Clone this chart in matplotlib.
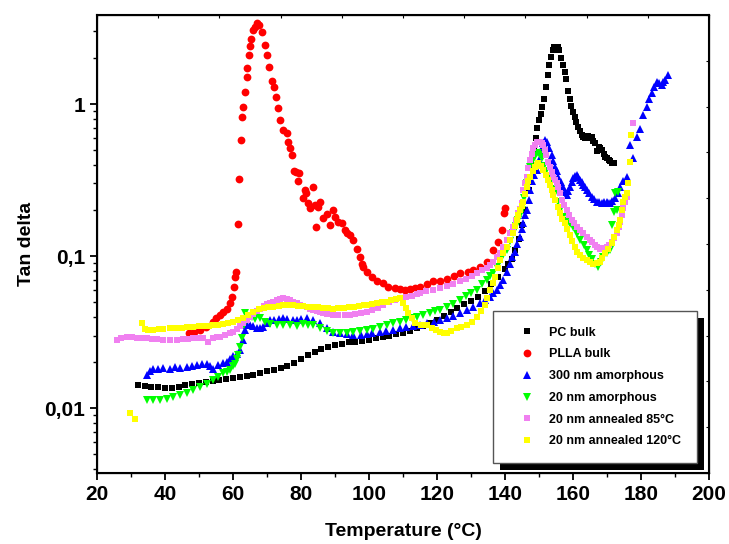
import matplotlib
matplotlib.use("Agg")
import matplotlib.pyplot as plt
from matplotlib.patches import Rectangle
from matplotlib.transforms import IdentityTransform
from matplotlib.ticker import FixedLocator, FuncFormatter, LogLocator, NullFormatter

plt.rcParams["font.family"] = ["Liberation Sans", "DejaVu Sans"]
plt.rcParams["font.weight"] = "bold"

# ---------------------------------------------------------------------------
# Data (temperature in degC, tan delta)
# ---------------------------------------------------------------------------

pc_t = [32, 34, 36, 38, 40, 42, 44, 46, 48, 50, 52, 54, 56, 58, 60, 62, 64, 66, 68, 70,
        72, 74, 76, 78, 80, 82, 84, 86, 88, 90, 92, 94, 96, 98, 100, 102, 104, 106, 108, 110,
        112, 114, 116, 118, 120, 122, 124, 126, 128, 130, 132, 134, 136, 138, 140, 141, 142,
        143, 144, 145, 146, 147, 148, 148.5, 149, 149.5, 150, 150.5, 151, 151.5, 152, 152.5,
        153, 153.5, 154, 154.5, 155, 155.5, 156, 156.5, 157, 157.5, 158, 158.5, 159, 159.5,
        160, 160.5, 161, 161.5, 162, 162.5, 163, 163.5, 164, 164.5, 165, 165.5, 166, 166.5,
        167, 167.5, 168, 168.5, 169, 169.5, 170, 170.5, 171, 171.5, 172]
pc_v = [.0142, .0140, .0138, .0137, .0136, .0135, .0138, .0141, .0144, .0147, .0149, .0151,
        .0154, .0156, .0158, .0160, .0162, .0165, .0170, .0174, .0178, .0183, .0189, .0198,
        .0210, .0222, .0233, .0245, .0254, .0260, .0265, .0270, .0274, .0278, .0282, .0288,
        .0294, .0300, .0306, .0313, .0322, .0335, .0348, .0365, .0382, .0402, .0430, .0458,
        .0482, .0508, .0540, .0585, .0650, .0730, .0820, .0880, .0950, .110, .130, .160, .200,
        .270, .400, .500, .600, .700, .780, .860, .950, 1.08, 1.30, 1.55, 1.80, 2.05, 2.25,
        2.36, 2.38, 2.37, 2.25, 2.00, 1.80, 1.62, 1.45, 1.22, 1.08, 0.97, 0.88, 0.82, 0.76,
        0.71, 0.66, 0.63, 0.61, 0.60, 0.61, 0.62, 0.60, 0.61, 0.57, 0.55, 0.49, 0.52, 0.51,
        0.50, 0.47, 0.45, 0.44, 0.43, 0.42, 0.41, 0.41]

plla_t = [47, 48.5, 50.3, 52, 54.1, 55, 56.2, 57, 58.1, 59.1, 59.8, 60.3, 60.6, 60.9, 61.4,
          61.9, 62.4, 62.7, 63.0, 63.5, 64.0, 64.2, 64.6, 65.0, 65.4, 65.8, 66.5, 67.0, 67.7,
          68.4, 69.4, 69.9, 70.7, 71.4, 72.1, 72.6, 73.2, 73.8, 74.8, 75.8, 76.3, 76.8, 77.4,
          78.0, 78.6, 79.2, 79.5, 80.5, 81.2, 81.6, 82.2, 82.6, 83.4, 84.1, 84.4, 85.1, 85.6,
          86.6, 87.5, 88.5, 89.3, 90.0, 91.0, 92.0, 92.9, 93.6, 94.4, 95.4, 96.4, 97.4, 97.8,
          98.3, 99.3, 100.8, 102.3, 104.2, 105.7, 107.5, 109.1, 110.5, 112, 113.5, 115, 117,
          118.9, 121, 122.8, 125, 126.8, 129, 130.7, 132.5, 134.6, 136.6, 138.0, 139.0, 139.7,
          140.0]
plla_v = [.031, .0318, .0325, .034, .037, .039, .041, .043, .045, .049, .054, .063, .073, .079,
          .162, .32, .58, .82, .96, 1.20, 1.51, 1.73, 2.10, 2.42, 2.66, 3.07, 3.22, 3.39, 3.31,
          2.99, 2.45, 2.10, 1.76, 1.42, 1.29, 1.11, 0.94, 0.78, 0.67, 0.64, 0.565, 0.51, 0.46,
          0.36, 0.355, 0.31, 0.35, 0.24, 0.27, 0.26, 0.222, 0.206, 0.285, 0.217, 0.156, 0.21,
          0.228, 0.177, 0.19, 0.16, 0.20, 0.181, 0.168, 0.164, 0.148, 0.142, 0.137, 0.128,
          0.112, 0.099, 0.089, 0.085, 0.079, 0.073, 0.069, 0.066, 0.063, 0.062, 0.061, 0.060,
          0.061, 0.062, 0.063, 0.065, 0.068, 0.069, 0.071, 0.074, 0.077, 0.079, 0.081, 0.085,
          0.092, 0.11, 0.124, 0.148, 0.191, 0.206]

a300_t = [34.6, 35.5, 36.6, 38, 39.5, 41.5, 43, 44.5, 46.4, 48, 49.5, 51, 52.3, 53.3, 54.2,
          55.5, 57, 58.1, 59.1, 60.1, 61.1, 62.1, 62.8, 63.5, 64, 65, 66, 67, 68, 68.9, 70,
          70.9, 72, 73.5, 74.8, 76, 77.5, 78.7, 80, 81.7, 83.6, 85.6, 87.5, 89.5, 91.5, 93.5,
          95.4, 97.5, 99.3, 101, 103.2, 105, 107, 109.1, 111, 113, 115, 117, 119, 121, 122.8,
          124.8, 126.8, 128.7, 130.6, 132.6, 134.1, 135.6, 136.6, 137.6, 138.5, 139.5, 140.5,
          141.5, 142.2, 142.9, 143.6, 144.4, 145, 145.4, 146, 146.4, 147, 147.4, 148, 148.6,
          149.3, 150, 150.6, 151.1, 151.8, 152.3, 152.9, 153.7, 154.2, 154.7, 155.2, 155.7,
          156.4, 157.1, 157.6, 158.1, 158.6, 159.1, 159.6, 160.1, 160.6, 161.1, 161.6, 162.1,
          162.6, 163.0, 163.5, 164.0, 164.8, 165.5, 166.2, 167.0, 167.7, 168.4, 169.1, 169.9,
          170.4, 170.9, 171.6, 172.4, 173.1, 173.8, 174.8, 175.8, 176.8, 177.7, 178.7, 179.7,
          180.7, 181.7, 182.4, 183.1, 183.8, 184.6, 185.3, 186.1, 186.6, 187.1, 187.9]
a300_v = [.0165, .0175, .0182, .0180, .0183, .0182, .0185, .0184, .0187, .0188, .0192, .0195,
          .0196, .0190, .0182, .0192, .0198, .0202, .0210, .0219, .0228, .0240, .0280, .0325,
          .0350, .0350, .0345, .0334, .0336, .0342, .0360, .0378, .0382, .0386, .0389, .0388,
          .0382, .0380, .0385, .0389, .0378, .0362, .0338, .0318, .0310, .0305, .0302, .0304,
          .0308, .0312, .0318, .0322, .0328, .0334, .0340, .0346, .0353, .0360, .0370, .0380,
          .0390, .0405, .0422, .0440, .0462, .0488, .0512, .0540, .0570, .0600, .0645, .0698,
          .0790, .0890, .0980, .107, .120, .134, .150, .164, .185, .200, .235, .270, .310, .340,
          .368, .430, .500, .550, .580, .560, .510, .460, .420, .387, .360, .333, .305, .286,
          .265, .252, .268, .286, .305, .325, .335, .341, .330, .316, .305, .294, .283, .272,
          .258, .246, .237, .228, .225, .222, .225, .228, .224, .222, .230, .240, .260, .286,
          .310, .333, .540, .440, .61, .69, .85, .96, 1.08, 1.18, 1.30, 1.40, 1.38, 1.33, 1.40,
          1.44, 1.54]

a20_t = [34.6, 36.5, 38.5, 40.5, 42.4, 44.4, 46.4, 48.3, 50.3, 52.3, 54.2, 55.7, 57.1, 58.1,
         59.1, 60.1, 60.6, 61.1, 61.6, 62.1, 62.6, 63.1, 63.5, 64.5, 65.5, 66.5, 67.9, 69.4,
         71, 72.9, 74.8, 76.8, 78.7, 80.7, 82.2, 83.6, 85.6, 87.5, 89.5, 91.5, 93.5, 95.4,
         97.4, 99.3, 101.3, 103.2, 105.2, 107.2, 109.1, 111, 112.5, 114, 116, 118, 119.5,
         120.9, 122.8, 124.8, 126.8, 128.5, 130, 131.7, 133.2, 134.6, 135.6, 136.6, 137.6,
         138.5, 139.5, 140.5, 141.5, 142.4, 143.2, 143.9, 144.4, 144.9, 145.6, 146.4, 147.4,
         148.2, 148.9, 149.8, 150.3, 150.8, 151.5, 152.1, 152.7, 153.4, 154, 154.7, 155.5,
         156.2, 157.1, 158, 159, 160.1, 161.1, 162.1, 163.1, 164, 164.8, 165.6, 166.5, 167.4,
         168.2, 168.9, 169.9, 170.9, 171.4, 172.2, 172.9, 172.4, 173.2]
a20_v = [.0113, .0113, .0113, .0115, .0118, .0121, .0125, .0131, .0138, .0145, .0152, .0160,
         .0169, .0173, .0178, .0188, .0196, .0210, .0223, .0253, .0287, .0350, .0420, .0405,
         .0395, .0385, .0389, .0369, .0355, .0350, .0350, .0350, .0345, .0355, .0352, .0350,
         .0334, .0320, .0314, .0310, .0312, .0315, .0320, .0325, .0332, .0340, .0350, .0360,
         .0370, .0382, .0392, .0400, .0412, .0425, .0435, .0440, .0460, .0485, .0514, .0545,
         .0572, .0600, .0650, .0698, .0735, .0770, .0850, .0940, .1020, .110, .125, .141, .157,
         .173, .186, .200, .240, .300, .387, .430, .455, .474, .460, .440, .390, .360, .333,
         .300, .278, .258, .225, .200, .180, .170, .162, .156, .140, .128, .118, .110, .102,
         .095, .089, .085, .092, .099, .105, .110, .160, .195, .200, .258, .265]

ann85_t = [25.8, 27.2, 28.7, 30.2, 31.7, 33.1, 34.6, 36.1, 37.6, 39.5, 41.5, 43.5, 45.4, 46.9,
           48.3, 50, 51.2, 52.7, 54.2, 55.2, 56.2, 57.6, 59.1, 60.1, 61.1, 62.1, 63, 64, 65,
           66, 67, 67.9, 69, 70, 71, 71.9, 72.9, 73.9, 74.8, 75.8, 76.8, 77.7, 78.7, 79.7,
           80.7, 81.7, 82.7, 83.6, 84.6, 85.6, 86.6, 87.5, 88.5, 89.5, 91, 92.9, 94.4, 96,
           97.6, 99.3, 100.8, 102.5, 104.2, 105.9, 107.5, 109.1, 110.8, 112.5, 114, 115, 116.9,
           118.9, 120.9, 122.8, 124.8, 126.8, 128.5, 130.2, 131.7, 133.2, 134.6, 135.6, 136.6,
           137.6, 138.5, 139.5, 140.5, 141.5, 142.4, 143.2, 143.9, 144.4, 144.9, 145.4, 145.9,
           146.4, 146.9, 147.4, 147.9, 148.3, 148.8, 149.3, 149.8, 150.3, 150.8, 151.3, 151.8,
           152.2, 152.7, 153.2, 153.7, 154.2, 154.7, 155.2, 155.7, 156.2, 156.7, 157.4, 158.1,
           158.8, 159.6, 160.3, 161.1, 162, 163, 164, 165, 165.7, 166.5, 167.2, 167.9, 168.9,
           169.9, 170.6, 171.4, 172.1, 172.9, 173.4, 173.8, 174.3, 174.8, 175.3, 175.8, 177.7]
ann85_v = [.0280, .0288, .0295, .0292, .0290, .0288, .0287, .0286, .0284, .0282, .0280, .0282,
           .0285, .0286, .0287, .0288, .0290, .0273, .0290, .0292, .0295, .0302, .0310, .0318,
           .0330, .0345, .0360, .0378, .0395, .0415, .0432, .0450, .0468, .0482, .0492, .0500,
           .0515, .0525, .0527, .0520, .0510, .0500, .0490, .0478, .0470, .0460, .0448, .0440,
           .0434, .0428, .0422, .0418, .0414, .0410, .0410, .0410, .0410, .0415, .0422, .0430,
           .0440, .0458, .0476, .0495, .0510, .0527, .0540, .0550, .0562, .0570, .0585, .0600,
           .0613, .0635, .0655, .0680, .0710, .0740, .0770, .0805, .0840, .0870, .0920, .0980,
           .104, .115, .128, .141, .156, .173, .191, .205, .222, .272, .300, .333, .380, .428,
           .470, .510, .540, .560, .565, .565, .555, .540, .500, .460, .417, .385, .358, .333,
           .315, .300, .286, .260, .234, .215, .200, .186, .173, .165, .156, .148, .141, .134,
           .128, .123, .118, .114, .112, .113, .115, .119, .124, .132, .141, .155, .168, .187,
           .206, .225, .246, .746]

ann120_t = [29.7, 31.2, 33.1, 34.1, 35.1, 36.6, 38.1, 39.5, 41.5, 43.1, 44.9, 46.6, 48.3, 50,
            51.6, 53, 54.2, 55.6, 57.1, 58.6, 60.1, 61.6, 63, 64.5, 66, 67.5, 69, 70.4, 71.9,
            73.4, 74.8, 76.3, 77.7, 79.2, 80.7, 82.2, 83.6, 85.1, 86.6, 88, 89.5, 91, 92.5, 94,
            95.5, 97, 98.5, 99.3, 100.8, 102.3, 103.7, 105.2, 106.5, 107.8, 109.1, 110, 110.8,
            111.6, 112.5, 113.5, 115.2, 117, 118.5, 119.7, 120.9, 122, 122.8, 124.2, 125.8,
            127.2, 128.7, 130.2, 131.7, 132.9, 134.1, 134.8, 135.6, 136.4, 137.1, 137.8, 138.5,
            139.5, 140.5, 141.5, 142.4, 142.9, 143.4, 143.9, 144.4, 144.9, 145.4, 145.9, 146.4,
            146.9, 147.4, 148.1, 148.8, 149.3, 149.8, 150.5, 151.3, 152, 152.7, 153.2, 153.7,
            154.2, 154.7, 155.5, 156.2, 156.9, 157.6, 158.3, 159.1, 159.8, 160.6, 161.3, 162.1,
            163, 164, 165, 166, 167, 167.9, 168.6, 169.4, 170.4, 171.4, 172.1, 172.9, 173.4,
            173.8, 174.3, 174.8, 175.3, 175.8, 176.3, 176.8, 177.2]
ann120_v = [.0093, .0085, .0364, .0330, .0326, .0328, .0330, .0332, .0334, .0336, .0338, .0340,
            .0342, .0344, .0346, .0348, .0350, .0353, .0357, .0362, .0370, .0380, .0393, .0410,
            .0430, .0445, .0455, .0460, .0464, .0470, .0474, .0476, .0476, .0470, .0466, .0464,
            .0464, .0460, .0456, .0452, .0450, .0452, .0455, .0460, .0465, .0470, .0474, .0476,
            .0482, .0488, .0495, .0500, .0510, .0520, .0527, .0490, .0455, .0420, .0390, .0360,
            .0353, .0350, .0335, .0325, .0318, .0312, .0310, .0322, .0334, .0342, .0350, .0370,
            .0400, .0435, .0476, .0530, .0600, .0665, .0731, .0830, .0940, .104, .115, .128,
            .141, .157, .173, .186, .200, .214, .228, .255, .286, .310, .333, .360, .387, .400,
            .407, .390, .368, .340, .316, .293, .272, .252, .234, .210, .191, .176, .164, .150,
            .137, .125, .115, .107, .101, .097, .094, .091, .089, .090, .0916, .097, .104, .112,
            .122, .134, .148, .160, .173, .200, .228, .243, .258, .300, .417, .625]

series = [
    ("PC bulk", pc_t, pc_v, "s", "#000000", 4.8),
    ("PLLA bulk", plla_t, plla_v, "o", "#FF0000", 5.6),
    ("300 nm amorphous", a300_t, a300_v, "^", "#0000FF", 5.8),
    ("20 nm amorphous", a20_t, a20_v, "v", "#00FF00", 5.8),
    ("20 nm annealed 85\u00b0C", ann85_t, ann85_v, "s", "#F080F0", 4.8),
    ("20 nm annealed 120\u00b0C", ann120_t, ann120_v, "s", "#FFFF00", 4.8),
]

# ---------------------------------------------------------------------------
# Figure
# ---------------------------------------------------------------------------

fig = plt.figure(figsize=(7.29, 5.44), dpi=100)
ax = fig.add_axes([97 / 729, 1 - 473 / 544, 612 / 729, 458 / 544])

for label, t, v, mk, col, ms in series:
    ax.plot(t, v, linestyle="none", marker=mk, color=col, markersize=ms,
            markeredgewidth=0, label=label)

ax.set_yscale("log")
ax.set_xlim(20, 200)
ax.set_ylim(0.00374, 3.85)

ax.xaxis.set_major_locator(FixedLocator(range(20, 201, 20)))
ax.xaxis.set_minor_locator(FixedLocator(range(30, 200, 20)))
ax.yaxis.set_major_locator(LogLocator(base=10, numticks=10))
ax.yaxis.set_minor_locator(LogLocator(base=10, subs=range(2, 10), numticks=20))
ax.yaxis.set_minor_formatter(NullFormatter())
ax.yaxis.set_major_formatter(FuncFormatter(lambda v, p: f"{v:g}".replace(".", ",")))

ax.tick_params(which="major", direction="out", length=5, width=1.3, labelsize=15,
               top=False, right=False)
ax.tick_params(which="minor", direction="out", length=3, width=1.0, top=False, right=False)
for s in ax.spines.values():
    s.set_linewidth(1.5)

ax.set_xlabel("Temperature (\u00b0C)", fontsize=14, fontweight="bold", labelpad=14)
ax.set_ylabel("Tan delta", fontsize=14, fontweight="bold", labelpad=7)

# opposite axes carry short inward ticks in ten even steps, no labels
axt = ax.twiny()
axt.set_xlim(0, 10)
axt.xaxis.set_major_locator(FixedLocator(range(11)))
axt.tick_params(axis="x", direction="in", length=2.5, width=0.8, labeltop=False)
axr = ax.twinx()
axr.set_ylim(0, 10)
axr.yaxis.set_major_locator(FixedLocator(range(11)))
axr.tick_params(axis="y", direction="in", length=2.5, width=0.8, labelright=False)

leg = ax.legend(loc="lower right", bbox_to_anchor=(0.9804, 0.0218), fancybox=False,
                frameon=True, edgecolor="#555555", framealpha=1, borderpad=1.25,
                handlelength=3.0, handletextpad=0.3, labelspacing=0.78, borderaxespad=0,
                prop={"size": 9, "weight": "bold"})
leg.get_frame().set_linewidth(1.0)
leg.set_zorder(10)

fig.canvas.draw()
bb = leg.get_window_extent()
off = 7
shadow = Rectangle((bb.x0 + off, bb.y0 - off), bb.width, bb.height, transform=IdentityTransform(),
                   facecolor="black", edgecolor="none", zorder=9, clip_on=False)
ax.add_artist(shadow)

fig.savefig("out.png", dpi=100)
